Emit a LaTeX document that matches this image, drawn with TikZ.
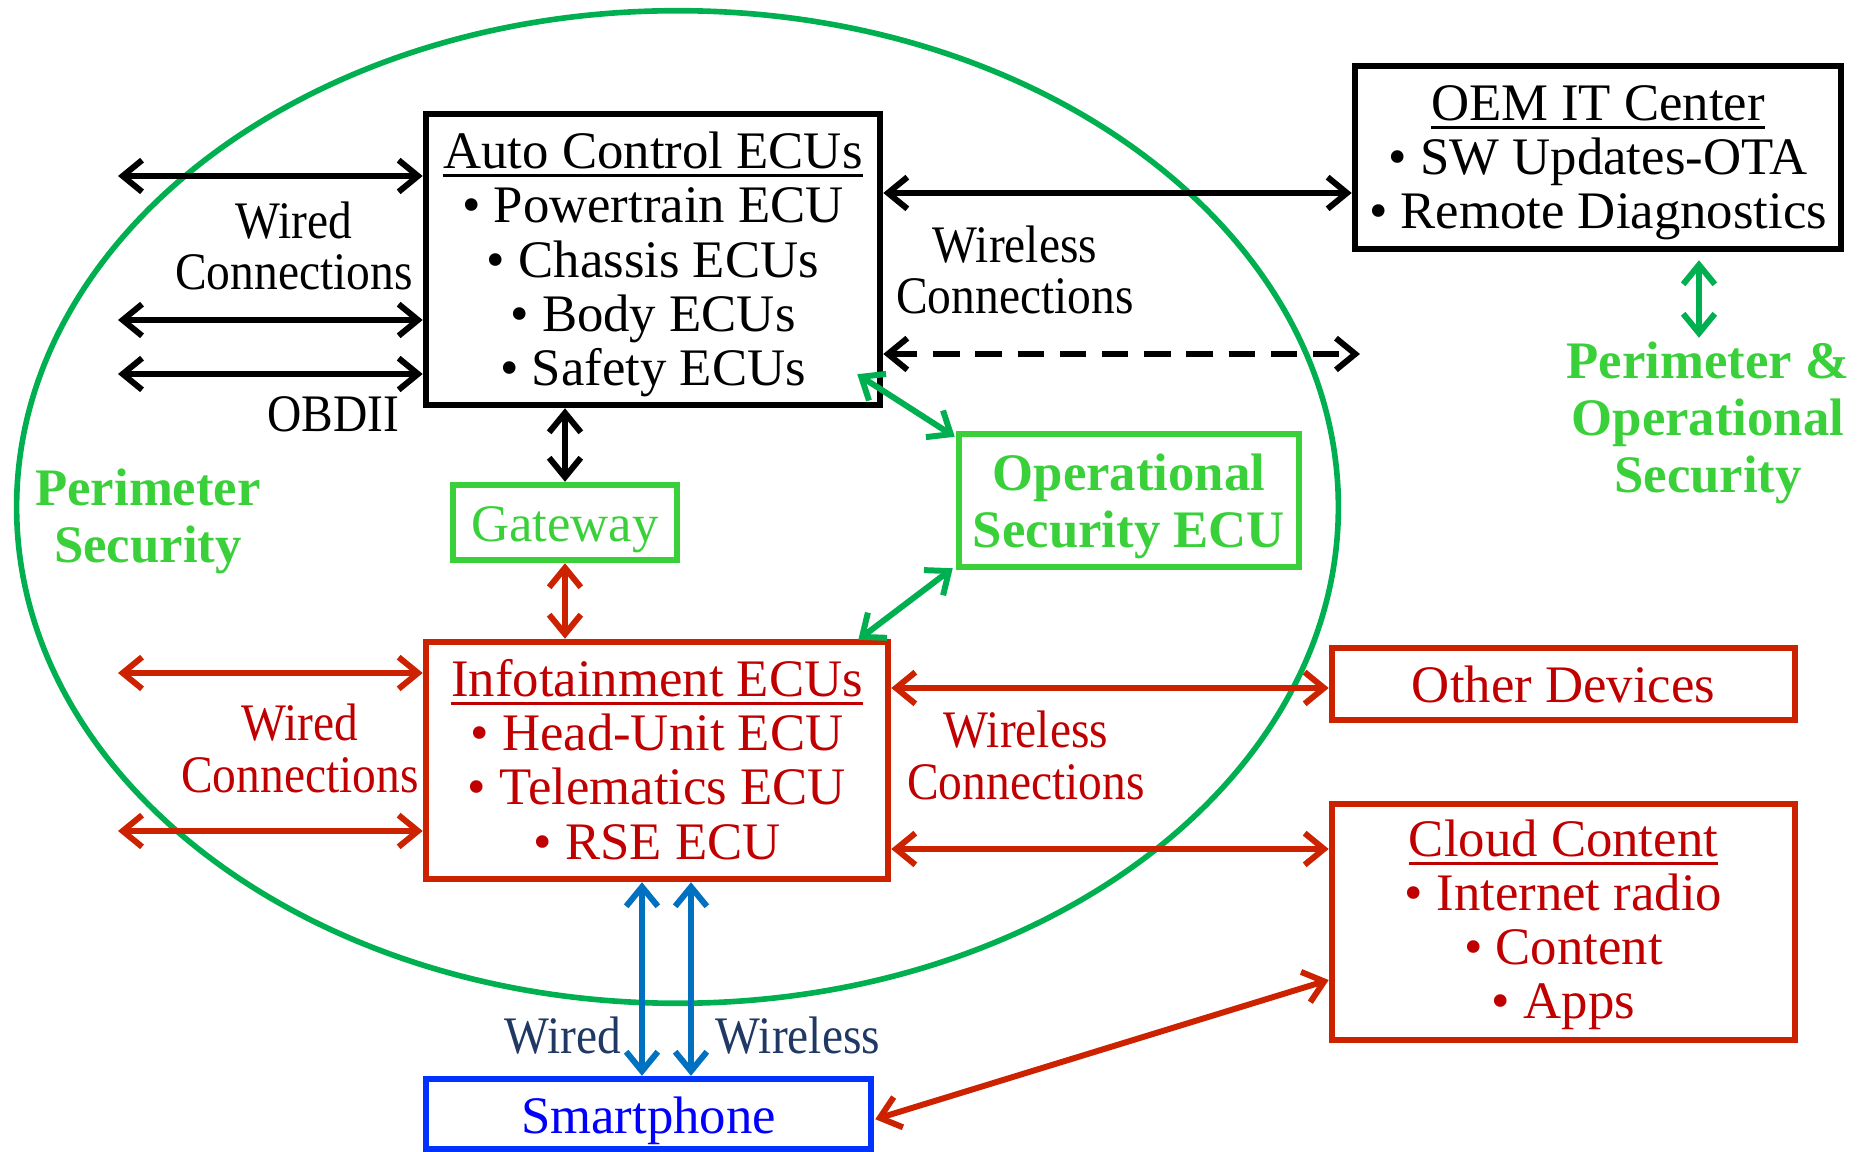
\documentclass[tikz,border=0pt]{standalone}
\usepackage{fontspec}
\usepackage{graphicx}
\setmainfont{Liberation Serif}
\usetikzlibrary{arrows.meta,calc}
\definecolor{ellg}{RGB}{0,176,80}
\definecolor{brg}{RGB}{58,208,58}
\definecolor{bred}{RGB}{204,34,0}
\definecolor{tred}{RGB}{192,0,0}
\definecolor{barr}{RGB}{0,112,192}
\definecolor{navy}{RGB}{31,56,100}
\definecolor{pblue}{RGB}{0,51,255}
\definecolor{ptext}{RGB}{0,0,255}
\newcommand\myul[1]{\setbox0=\hbox{#1}\rlap{\rule[-2.4pt]{\wd0}{0.8pt}}\box0}
\newcommand\cnd[1]{\scalebox{0.9}[1]{#1}}
\tikzset{
  box/.style={draw, line width=1.8pt, inner sep=0pt},
  txt/.style={font=\fontsize{15}{15.4}\selectfont, align=center, inner sep=1pt},
  lab/.style={font=\fontsize{15}{14.6}\selectfont, align=center, inner sep=1pt},
  blab/.style={font=\fontsize{15}{16.2}\selectfont\bfseries, text=brg, align=center, inner sep=1pt},
  arr/.style={line width=1.7pt, {Straight Barb[length=5.5pt,width=9pt]}-{Straight Barb[length=5.5pt,width=9pt]}},
}
\begin{document}
\begin{tikzpicture}[x=0.01cm,y=-0.01cm]
\useasboundingbox (0,0) rectangle (1859,1152);
% perimeter ellipse
\draw[ellg, line width=1.6pt] (677.5,507) ellipse [x radius=6.605cm, y radius=4.96cm];

% boxes
\node[box, minimum width=4.54cm, minimum height=2.91cm] (auto) at (653,259.5) {};
\node[txt] (autot) at ($(auto.center)+(0,5)$)
  {\myul{Auto Control ECUs}\\• Powertrain ECU\\• Chassis ECUs\\• Body ECUs\\• Safety ECUs};
\node[box, minimum width=4.86cm, minimum height=1.83cm] (oem) at (1598,157.5) {};
\node[txt] (oemt) at ($(oem.center)+(0,5)$)
  {\myul{OEM IT Center}\\• SW Updates-OTA\\• Remote Diagnostics};
\node[box, draw=brg, minimum width=2.24cm, minimum height=0.75cm] (gw) at (565,522.5) {};
\node[txt, text=brg] (gwt) at ($(gw.center)+(0,7)$) {Gateway};
\node[box, draw=brg, minimum width=3.40cm, minimum height=1.33cm] (opsec) at (1129,500.5) {};
\node[blab] (opsect) at ($(opsec.center)+(0,6)$) {Operational\\Security ECU};
\node[box, draw=bred, minimum width=4.62cm, minimum height=2.37cm] (info) at (657,760.5) {};
\node[txt, text=tred] (infot) at ($(info.center)+(0,-1)$)
  {\myul{Infotainment ECUs}\\• Head-Unit ECU\\• Telematics ECU\\• RSE ECU};
\node[box, draw=bred, minimum width=4.63cm, minimum height=0.72cm] (other) at (1563.5,684) {};
\node[txt, text=tred] (othert) at (other.center) {Other Devices};
\node[box, draw=bred, minimum width=4.63cm, minimum height=2.36cm] (cloud) at (1563.5,922) {};
\node[txt, text=tred] (cloudt) at ($(cloud.center)+(0,3)$)
  {\myul{Cloud Content}\\• Internet radio\\• Content\\• Apps};
\node[box, draw=pblue, minimum width=4.45cm, minimum height=0.705cm] (phone) at (648.5,1114.25) {};
\node[txt, text=ptext] (phonet) at ($(phone.center)+(0,7)$) {Smartphone};

% labels
\node[lab] (wiredA) at (294,246) {\cnd{Wired}\\\cnd{Connections}};
\node[lab] (obd) at (333,414) {\cnd{OBDII}};
\node[lab] (wlA) at (1015,270) {\cnd{Wireless}\\\cnd{Connections}};
\node[blab] (perim) at (148,521) {Perimeter\\Security};
\node[blab] (perop) at (1708,423) {Perimeter \&\\Operational\\Security};
\node[lab, text=tred] (wiredB) at (300,748.5) {\cnd{Wired}\\\cnd{Connections}};
\node[lab, text=tred] (wlB) at (1026,755.5) {\cnd{Wireless}\\\cnd{Connections}};
\node[lab, text=navy, anchor=base] (pw) at (563,1054) {\cnd{Wired}};
\node[lab, text=navy, anchor=base] (pwl) at (798,1054) {\cnd{Wireless}};

% free ends
\coordinate (lw1) at (118,176);
\coordinate (lw2) at (118,320);
\coordinate (lw3) at (118,374);
\coordinate (lr1) at (118,673);
\coordinate (lr2) at (118,831);
\coordinate (dashend) at (1360,354);

% black connectors
\draw[arr] (lw1) -- (lw1 -| auto.west);
\draw[arr] (lw2) -- (lw2 -| auto.west);
\draw[arr] (lw3) -- (lw3 -| auto.west);
\draw[arr] (auto.east |- 0,193) -- (oem.west |- 0,193);
\draw[arr, dash pattern=on 7.5pt off 4.5pt] (auto.east |- dashend) -- (dashend);
\draw[arr] (gw.north |- auto.south) -- (gw.north);

% green connectors
\draw[arr, ellg] ($(oem.south -| 1699,0)+(0,8)$) -- (perop.north -| 1699,0);
\draw[arr, ellg] ($(auto.south east)+(-26,-34)$) -- ($(opsec.north west)+(-1,6)$);
\draw[arr, ellg] ($(opsec.south west)+(-3,-2)$) -- ($(info.north east)+(-33,1)$);

% red connectors
\draw[arr, bred] (gw.south) -- (gw.south |- info.north);
\draw[arr, bred] (lr1) -- (lr1 -| info.west);
\draw[arr, bred] (lr2) -- (lr2 -| info.west);
\draw[arr, bred] (info.east |- 0,688) -- (other.west |- 0,688);
\draw[arr, bred] (info.east |- 0,849) -- (cloud.west |- 0,849);
\draw[arr, bred] ($(phone.east)+(1,5)$) -- (cloud.west |- 0,980);

% blue connectors
\draw[arr, barr] (info.south -| 642,0) -- (phone.north -| 642,0);
\draw[arr, barr] (info.south -| 691,0) -- (phone.north -| 691,0);
\end{tikzpicture}
\end{document}
